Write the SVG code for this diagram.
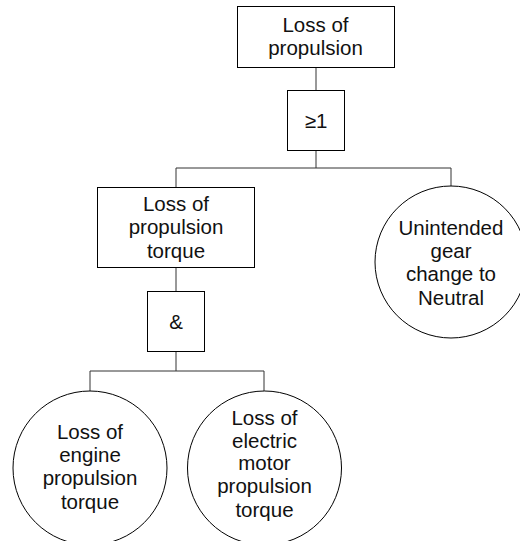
<svg xmlns="http://www.w3.org/2000/svg" width="520" height="541" viewBox="0 0 520 541">
  <style>
    .box { fill: #fff; stroke: #000; stroke-width: 1; }
    .gate { fill: #fff; stroke: #000; stroke-width: 1; }
    .event { fill: #fff; stroke: #000; stroke-width: 1; }
    .wire { fill: none; stroke: #333; stroke-width: 1; }
    text { font-family: "Liberation Sans", Arial, sans-serif; font-size: 20.5px; fill: #111; text-anchor: middle; }
  </style>
  <rect width="520" height="541" fill="#fff"/>

  <!-- connectors -->
  <g id="connectors">
    <path class="wire" d="M316 67 V90 M316 150 V168 M176 168 H451 M176 168 V187 M451 168 V186"/>
    <path class="wire" d="M176 267 V291 M176 351 V371 M90 371 H264 M90 371 V391 M264 371 V391"/>
  </g>

  <!-- top event -->
  <g id="loss-of-propulsion">
    <rect class="box" x="237.5" y="6.5" width="157" height="61"/>
    <text x="315.5" y="32">Loss of</text>
    <text x="315.5" y="55">propulsion</text>
  </g>

  <!-- OR gate -->
  <g id="or-gate">
    <rect class="gate" x="287.5" y="90.5" width="57" height="60"/>
    <text x="316" y="128">≥1</text>
  </g>

  <!-- intermediate event -->
  <g id="loss-of-propulsion-torque">
    <rect class="box" x="97.5" y="187.5" width="157" height="80"/>
    <text x="176" y="211">Loss of</text>
    <text x="176" y="234">propulsion</text>
    <text x="176" y="257.5">torque</text>
  </g>

  <!-- AND gate -->
  <g id="and-gate">
    <rect class="gate" x="147.5" y="291.5" width="57" height="60"/>
    <text x="176" y="329">&amp;</text>
  </g>

  <!-- basic events -->
  <g id="unintended-gear-change">
    <circle class="event" cx="451" cy="262" r="76"/>
    <text x="451" y="235">Unintended</text>
    <text x="451" y="258">gear</text>
    <text x="451" y="281">change to</text>
    <text x="451" y="305">Neutral</text>
  </g>

  <g id="loss-of-engine-torque">
    <circle class="event" cx="90" cy="468" r="77"/>
    <text x="90" y="439">Loss of</text>
    <text x="90" y="462">engine</text>
    <text x="90" y="485">propulsion</text>
    <text x="90" y="508.5">torque</text>
  </g>

  <g id="loss-of-motor-torque">
    <circle class="event" cx="264.5" cy="468" r="77"/>
    <text x="264.5" y="425">Loss of</text>
    <text x="264.5" y="447.5">electric</text>
    <text x="264.5" y="470">motor</text>
    <text x="264.5" y="493">propulsion</text>
    <text x="264.5" y="516.5">torque</text>
  </g>
</svg>
